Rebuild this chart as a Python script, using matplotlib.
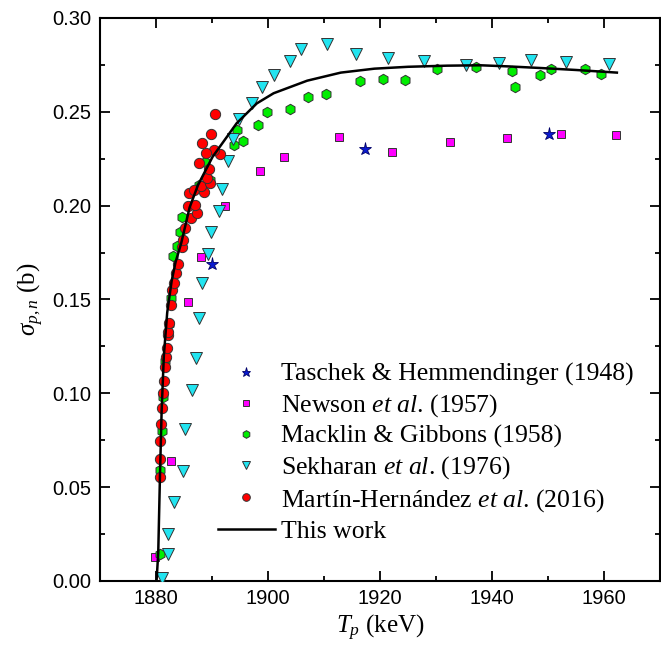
import matplotlib
matplotlib.use("Agg")
import matplotlib.pyplot as plt
from matplotlib.ticker import MultipleLocator, FormatStrFormatter

plt.rcParams['mathtext.fontset'] = 'custom'
plt.rcParams['mathtext.rm'] = 'Liberation Serif'
plt.rcParams['mathtext.it'] = 'Liberation Serif:italic'

# Taschek & Hemmendinger (1948)
th_T = [1890.0, 1917.3, 1950.2]
th_s = [0.169, 0.230, 0.238]

# Newson et al. (1957)
nw_T = [1879.9, 1882.6, 1885.8, 1888.0, 1892.4, 1898.5, 1902.8, 1912.6, 1922.2, 1932.5, 1942.7, 1952.4, 1962.1]
nw_s = [0.013, 0.064, 0.1485, 0.1725, 0.200, 0.2185, 0.2258, 0.2364, 0.2288, 0.2341, 0.2359, 0.2380, 0.2377]

# Macklin & Gibbons (1958)
mg_T = [1880.7, 1880.7, 1881.0, 1881.2, 1881.6, 1882.3, 1882.6, 1883.1, 1883.7, 1884.3, 1884.6,
        1887.6, 1889.6, 1888.75, 1893.9, 1895.5, 1894.4, 1898.3, 1899.9, 1903.9, 1907.1, 1910.4,
        1916.4, 1920.5, 1924.5, 1930.2, 1937.1, 1943.6, 1944.1, 1948.5, 1950.5, 1956.6, 1959.5]
mg_s = [0.0144, 0.059, 0.080, 0.098, 0.117, 0.137, 0.1506, 0.173, 0.1785, 0.186, 0.194,
        0.211, 0.2137, 0.2234, 0.2323, 0.2346, 0.2403, 0.243, 0.250, 0.2513, 0.2579, 0.2597,
        0.2664, 0.2673, 0.2670, 0.2727, 0.2741, 0.2719, 0.2631, 0.2696, 0.2727, 0.2728, 0.2700]

# Sekharan et al. (1976)
sk_T = [1881.0, 1882.2, 1882.2, 1883.2, 1884.9, 1885.2, 1886.5, 1887.1, 1887.7, 1888.2, 1889.2,
        1889.9, 1891.3, 1891.8, 1892.8, 1893.7, 1894.8, 1897.1, 1898.9, 1901.0, 1903.9, 1905.95,
        1910.5, 1915.7, 1921.4, 1927.9, 1935.3, 1941.25, 1947.0, 1953.2, 1960.9]
sk_s = [0.0014, 0.0144, 0.025, 0.0423, 0.0586, 0.081, 0.102, 0.1187, 0.1403, 0.1586, 0.1742,
        0.1861, 0.1972, 0.2087, 0.2238, 0.2354, 0.246, 0.2549, 0.2634, 0.2696, 0.2772, 0.2837,
        0.2863, 0.2806, 0.2785, 0.2771, 0.2750, 0.2762, 0.2776, 0.2766, 0.2755]

# Martin-Hernandez et al. (2016)
mh_T = [1880.7, 1880.7, 1880.8, 1880.9, 1881.1, 1881.2, 1881.5, 1881.6, 1881.8, 1882.0, 1882.2,
        1882.2, 1882.3, 1882.6, 1882.8, 1883.2, 1883.5, 1883.9, 1884.6, 1884.8, 1885.2, 1886.2,
        1887.4, 1885.8, 1887.0, 1885.95, 1886.7, 1888.6, 1888.0, 1889.6, 1889.05, 1889.5, 1887.7,
        1891.4, 1890.4, 1888.9, 1888.2, 1889.9, 1890.54]
mh_s = [0.0553, 0.0648, 0.0748, 0.0837, 0.092, 0.1004, 0.1067, 0.1142, 0.1192, 0.124, 0.1311,
        0.1328, 0.1377, 0.1471, 0.155, 0.159, 0.164, 0.169, 0.1781, 0.1817, 0.1879, 0.1933,
        0.1959, 0.1998, 0.2004, 0.2066, 0.2083, 0.2075, 0.2105, 0.2119, 0.2149, 0.2195, 0.2226,
        0.2275, 0.2297, 0.2279, 0.2332, 0.2382, 0.2488]

# This work
tw_T = [1880.1, 1880.4, 1880.7, 1881.0, 1881.4, 1882.0, 1882.8, 1883.5, 1884.5, 1886.0, 1887.5,
        1890.1, 1894.4, 1898.0, 1901.0, 1907.0, 1913.0, 1919.0, 1925.0, 1932.0, 1938.0, 1943.0,
        1949.0, 1955.0, 1962.3]
tw_s = [0.0, 0.015, 0.055, 0.09, 0.12, 0.143, 0.160, 0.170, 0.180, 0.199, 0.211,
        0.226, 0.2439, 0.2545, 0.2599, 0.2666, 0.2709, 0.273, 0.274, 0.2746, 0.2748, 0.2742,
        0.2733, 0.2723, 0.2709]

labels = ["Taschek & Hemmendinger (1948)",
          "Newson $\\it{et\\ al}$. (1957)",
          "Macklin & Gibbons (1958)",
          "Sekharan $\\it{et\\ al}$. (1976)",
          "Mart\u00edn-Hern\u00e1ndez $\\it{et\\ al}$. (2016)",
          "This work"]

fig = plt.figure(figsize=(6.61, 6.52), dpi=100)
ax = fig.add_axes([100/661, 1 - 581/652, 560/661, 563/652])

ec = '#333333'
ew = 0.7
h1, = ax.plot(th_T, th_s, ls='none', marker='*', ms=9.5, mfc='#0a1ad0', mec='#000066', mew=0.6, zorder=3)
h2, = ax.plot(nw_T, nw_s, ls='none', marker='s', ms=6, mfc='#ff00ff', mec=ec, mew=ew, zorder=3)
h3, = ax.plot(mg_T, mg_s, ls='none', marker='h', ms=7.5, mfc='#00ee00', mec=ec, mew=ew, zorder=3)
h4, = ax.plot(sk_T, sk_s, ls='none', marker='v', ms=8.5, mfc='#22e4f0', mec=ec, mew=ew, zorder=3)
h5, = ax.plot(mh_T, mh_s, ls='none', marker='o', ms=7.4, mfc='#ff0000', mec=ec, mew=ew, zorder=4)
h6, = ax.plot(tw_T, tw_s, color='black', lw=1.8, zorder=5)

ax.set_xlim(1870, 1970)
ax.set_ylim(0.0, 0.30)
ax.xaxis.set_major_locator(MultipleLocator(20))
ax.xaxis.set_minor_locator(MultipleLocator(10))
ax.yaxis.set_major_locator(MultipleLocator(0.05))
ax.yaxis.set_minor_locator(MultipleLocator(0.025))
ax.yaxis.set_major_formatter(FormatStrFormatter('%.2f'))
ax.tick_params(which='both', direction='in', top=True, right=True, width=1.3)
ax.tick_params(which='major', length=7)
ax.tick_params(which='minor', length=3.5)
ax.tick_params(which='major', labelsize=14.5, pad=6)
for lab in ax.get_xticklabels() + ax.get_yticklabels():
    lab.set_family('Liberation Sans')
for s in ax.spines.values():
    s.set_linewidth(1.5)

ax.set_xlabel(r'$T_p$ (keV)', fontsize=18, family='Liberation Serif', labelpad=3)
ax.set_ylabel(r'$\sigma_{p,n}$ (b)', fontsize=18, family='Liberation Serif', labelpad=5)

leg = ax.legend([h1, h2, h3, h4, h5, h6], labels, loc='lower left',
                bbox_to_anchor=(0.179, 0.036), frameon=False,
                prop={'family': 'Liberation Serif', 'size': 18.5},
                handlelength=2.2, handletextpad=0.25, labelspacing=0.23,
                borderpad=0.2)
for lh, sz in zip(leg.legend_handles, [6.5, 5, 5.5, 5.5, 5.5, 0]):
    if sz:
        lh.set_markersize(sz)

fig.savefig('out.png', dpi=100)
